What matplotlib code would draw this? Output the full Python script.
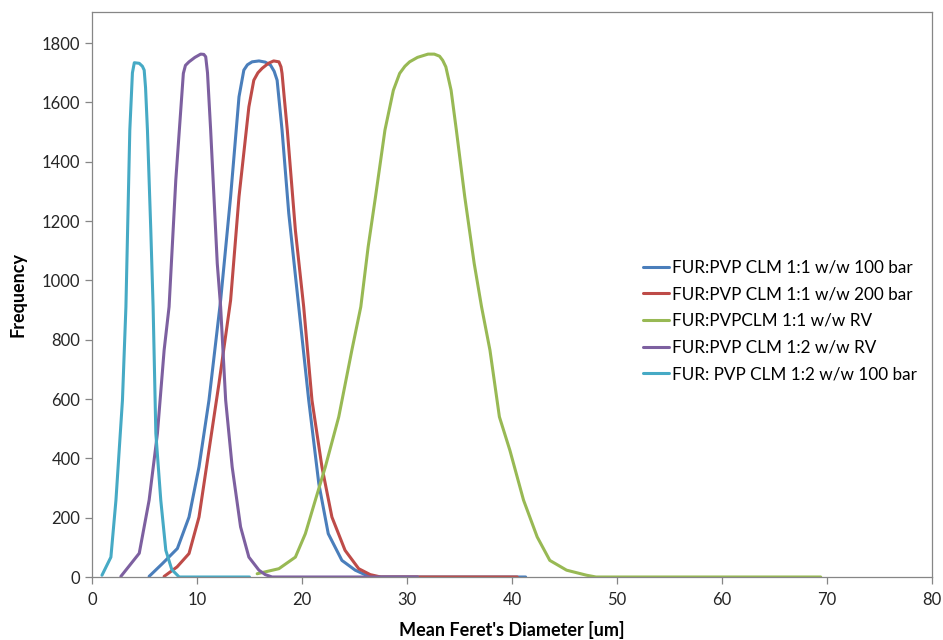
import matplotlib.pyplot as plt

plt.rcParams['font.family'] = ['Lato', 'DejaVu Sans']

# Mean Feret's diameter (um) vs frequency
blue_x = [5.44, 6.7, 8.13, 9.24, 10.19, 11.14, 12.25, 13.2, 14.0, 14.46, 14.8, 15.25, 15.9, 16.5,
          17.0, 17.35, 17.63, 18.1, 18.74, 19.69, 20.64, 21.6, 22.5, 23.8, 25.07, 26.0, 26.8,
          30.0, 35.0, 41.3]
blue_y = [2, 45, 96, 202, 371, 596, 933, 1282, 1619, 1709, 1727, 1737, 1740, 1736,
          1726, 1705, 1675, 1507, 1226, 911, 596, 315, 146, 56, 23, 8, 0,
          0, 0, 0]

red_x = [6.87, 8.1, 9.24, 10.19, 11.14, 12.09, 13.2, 14.0, 14.94, 15.41, 15.8, 16.2, 16.8, 17.3,
         17.8, 18.0, 18.1, 18.3, 18.6, 19.37, 20.16, 20.95, 21.9, 22.85, 24.1, 25.4, 26.5,
         27.5, 40.5]
red_y = [2, 34, 79, 202, 427, 652, 933, 1282, 1585, 1675, 1700, 1715, 1732, 1740,
         1737, 1720, 1698, 1620, 1507, 1169, 911, 596, 371, 202, 90, 28, 8,
         0, 0]

green_x = [15.73, 17.8, 19.37, 20.32, 21.27, 22.22, 23.5, 24.75, 25.6, 26.3, 27.0, 27.9, 28.7,
           29.3, 29.8, 30.25, 31.0, 32.0, 32.6, 33.1, 33.4, 33.7, 34.2, 34.7, 35.5, 36.4,
           37.1, 37.9, 38.8, 39.8, 41.1, 42.4, 43.6, 45.2, 47.1, 48.0, 69.4]
green_y = [11, 28, 67, 146, 259, 371, 540, 765, 911, 1113, 1282, 1507, 1641,
           1698, 1722, 1737, 1752, 1763, 1763, 1756, 1742, 1720, 1641, 1507, 1282, 1057,
           911, 765, 540, 427, 259, 135, 56, 23, 6, 0, 0]

purple_x = [2.75, 4.5, 5.44, 6.23, 6.87, 7.34, 7.98, 8.7, 8.9, 9.24, 9.8, 10.35, 10.65, 10.83,
            11.0, 11.3, 11.93, 12.25, 12.73, 13.35, 14.15, 14.94, 15.9, 16.5, 17.15, 31.0]
purple_y = [2, 80, 259, 484, 765, 911, 1338, 1698, 1725, 1737, 1752, 1763, 1762, 1754,
            1700, 1507, 1057, 911, 596, 371, 169, 67, 23, 8, 0, 0]

cyan_x = [0.95, 1.8, 2.28, 2.9, 3.23, 3.6, 3.85, 4.03, 4.5, 4.8, 4.97, 5.1, 5.28, 5.6, 5.82,
          6.08, 6.55, 7.03, 7.6, 8.3, 15.0]
cyan_y = [6, 67, 259, 596, 911, 1506, 1700, 1734, 1732, 1722, 1709, 1650, 1507, 1169, 911,
          484, 259, 90, 25, 0, 0]

labels = ['FUR:PVP CLM 1:1 w/w 100 bar', 'FUR:PVP CLM 1:1 w/w 200 bar',
          'FUR:PVPCLM 1:1 w/w RV', 'FUR:PVP CLM 1:2 w/w RV',
          'FUR: PVP CLM 1:2 w/w 100 bar']
colors = ['#4A7EBB', '#BE4B48', '#98B954', '#7D60A0', '#46AAC5']

series = [(blue_x, blue_y), (red_x, red_y), (green_x, green_y),
          (purple_x, purple_y), (cyan_x, cyan_y)]

fig = plt.figure(figsize=(9.43, 6.4), dpi=100)
ax = fig.add_axes([92 / 943, 1 - 577 / 640, 840 / 943, 565 / 640])

for (xs, ys), lab, c in zip(series, labels, colors):
    ax.plot(xs, ys, color=c, lw=2.2, label=lab, solid_capstyle='round', solid_joinstyle='round')

ax.set_xlim(0, 80)
ax.set_ylim(0, 1905)
ax.set_xticks(range(0, 81, 10))
ax.set_yticks(range(0, 1801, 200))

for s in ax.spines.values():
    s.set_color('#868686')
    s.set_linewidth(0.9)
ax.tick_params(direction='out', length=5, width=0.9, color='#868686',
               labelsize=12, labelcolor='#262626')
ax.tick_params(axis='x', pad=6)

ax.set_xlabel("Mean Feret's Diameter [um]", fontsize=13, fontweight='bold', labelpad=9)
ax.set_ylabel('Frequency', fontsize=13, fontweight='bold', labelpad=11)

ax.legend(loc='center left', bbox_to_anchor=(643 / 943, 1 - 321 / 640),
          bbox_transform=fig.transFigure, frameon=False, fontsize=12.3,
          handlelength=1.5, handletextpad=0.2, labelspacing=0.62,
          borderpad=0, borderaxespad=0)

fig.savefig('out.png', dpi=100)
